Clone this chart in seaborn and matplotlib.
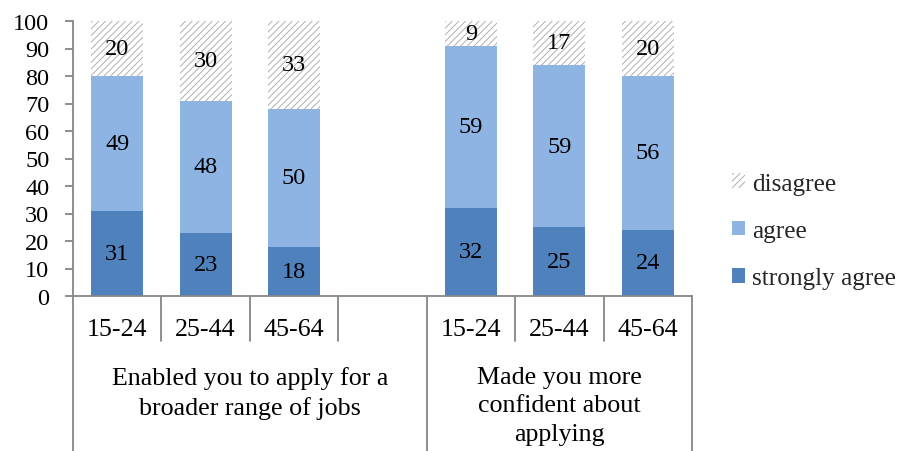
import numpy as np
import pandas as pd
import matplotlib
matplotlib.use("Agg")
import matplotlib.pyplot as plt
import matplotlib.transforms as mtransforms
from matplotlib.patches import Patch
import seaborn as sns

# Survey responses by age band, two questions; one empty slot separates the groups
slots = ["s0", "s1", "s2", "gap", "s4", "s5", "s6"]
age_labels = ["15-24", "25-44", "45-64", "", "15-24", "25-44", "45-64"]
bar_slots = ["s0", "s1", "s2", "s4", "s5", "s6"]
strongly_agree = [31, 23, 18, 32, 25, 24]
agree = [49, 48, 50, 59, 59, 56]
disagree = [20, 30, 33, 9, 17, 20]
group_labels = ["Enabled you to apply for a\nbroader range of jobs",
                "Made you more\nconfident about\napplying"]
group_spans = [(0, 3), (4, 6)]  # slot index ranges covered by each group
yticks = list(range(0, 101, 10))

sns.set_theme(style="white")
plt.rcParams["font.family"] = ["Liberation Serif", "DejaVu Serif"]
plt.rcParams["hatch.linewidth"] = 0.7

AX_GRAY = "#868686"
C_STRONG = "#4F81BD"
C_AGREE = "#8EB4E3"
C_HATCH = "#B0B0B0"
FS = 17.5
FS_TXT = 18.7
FS_LEG = 18.2

df = pd.DataFrame({
    "slot": bar_slots,
    "strongly agree": strongly_agree,
    "agree": agree,
    "disagree": disagree,
})
df["cum_agree"] = df["strongly agree"] + df["agree"]
df["cum_total"] = df["cum_agree"] + df["disagree"]

fig = plt.figure(figsize=(9.06, 4.52), dpi=100)
ax = fig.add_axes([73 / 906, 1 - 297 / 452, (692 - 73) / 906, 275 / 452])

W = 0.59
# Overlaid cumulative bars give the stacked look
sns.barplot(data=df, x="slot", y="cum_total", order=slots, ax=ax,
            color="white", width=W, edgecolor=C_HATCH, linewidth=0,
            hatch="/////", errorbar=None, saturation=1)
sns.barplot(data=df, x="slot", y="cum_agree", order=slots, ax=ax,
            color=C_AGREE, width=W, linewidth=0, errorbar=None, saturation=1)
sns.barplot(data=df, x="slot", y="strongly agree", order=slots, ax=ax,
            color=C_STRONG, width=W, linewidth=0, errorbar=None, saturation=1)

ax.set_ylim(0, 100)
ax.set_xlim(-0.5, len(slots) - 0.5)
ax.set_yticks(yticks)
ax.set_yticklabels([str(t) for t in yticks], fontsize=FS)
ax.set_xticks(range(len(slots)))
ax.set_xticklabels(age_labels, fontsize=FS_TXT)
ax.set_xlabel("")
ax.set_ylabel("")

for side in ["top", "right"]:
    ax.spines[side].set_visible(False)
for side in ["left", "bottom"]:
    ax.spines[side].set_color(AX_GRAY)
    ax.spines[side].set_linewidth(1.3)
ax.tick_params(axis="y", which="major", length=6, width=1.3, color=AX_GRAY,
               direction="out", pad=11, left=True, labelcolor="black")
ax.tick_params(axis="x", which="major", length=0, pad=16, labelcolor="black")

# Segment value labels
pos = {s: i for i, s in enumerate(slots)}
for _, r in df.iterrows():
    x = pos[r["slot"]]
    segs = [(0, r["strongly agree"], r["strongly agree"]),
            (r["strongly agree"], r["cum_agree"], r["agree"]),
            (r["cum_agree"], min(r["cum_total"], 100), r["disagree"])]
    for lo, hi, v in segs:
        ax.text(x, (lo + hi) / 2, f"{v}", ha="center", va="center",
                fontsize=FS, color="black")

# Two-level category axis separators
trans = mtransforms.blended_transform_factory(ax.transData, ax.transAxes)
short_y = -45 / 275
long_y = -(452 - 297) / 275
group_edges = set()
for a, b in group_spans:
    group_edges.add(a - 0.5)
    group_edges.add(b + 0.5)
for i in range(len(slots) + 1):
    xb = i - 0.5
    y_end = long_y if xb in group_edges else short_y
    ax.plot([xb, xb], [0, y_end], transform=trans, color=AX_GRAY,
            lw=1.3, clip_on=False)

for (a, b), lab in zip(group_spans, group_labels):
    xc = (a - 0.5 + b + 0.5) / 2
    ax.text(xc, -70 / 275, lab, transform=trans, ha="center", va="top",
            fontsize=FS_TXT, linespacing=1.38, color="black")

# Legend, top-down: disagree, agree, strongly agree
handles = [Patch(facecolor="white", edgecolor=C_HATCH, hatch="/////", linewidth=0),
           Patch(facecolor=C_AGREE, linewidth=0),
           Patch(facecolor=C_STRONG, linewidth=0)]
fig.legend(handles, ["disagree", "agree", "strongly agree"],
           loc="center left", bbox_to_anchor=(719 / 906, 1 - 232 / 452),
           frameon=False, fontsize=FS_LEG, handlelength=0.52, handleheight=0.52,
           handletextpad=0.3, labelspacing=1.0, borderpad=0)

fig.savefig("out.png", dpi=100)
